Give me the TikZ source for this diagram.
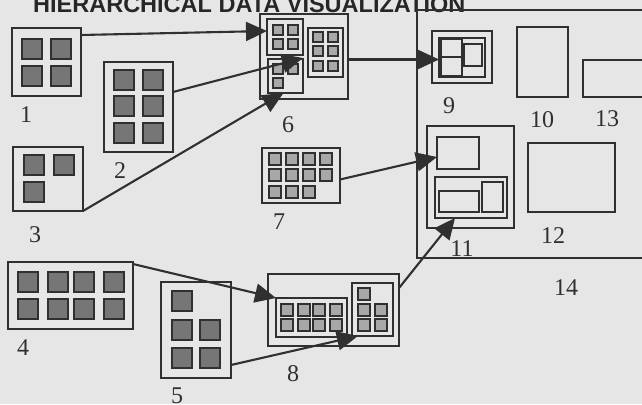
\documentclass[tikz,border=0pt]{standalone}
\usepackage{fontspec}
\setmainfont{Liberation Serif}
\newfontfamily\titlesans{Liberation Sans}
\usetikzlibrary{arrows.meta,fit,calc}
\definecolor{bg}{RGB}{230,230,230}
\definecolor{ink}{RGB}{48,48,48}
\definecolor{bigfill}{RGB}{118,118,118}
\definecolor{smallfill}{RGB}{168,168,168}
\newcommand{\BSq}[2]{\draw[bigsq] (#1,#2) rectangle ++(20,20);}
\newcommand{\SSq}[2]{\draw[smallsq] (#1,#2) rectangle ++(10,10);}
\newcommand{\MSq}[2]{\draw[smallsq] (#1,#2) rectangle ++(12,12);}
\begin{document}
\begin{tikzpicture}[x=1pt,y=-1pt,
  box/.style={draw=ink, line width=2.1pt, inner sep=0pt, outer sep=0pt},
  bigsq/.style={draw=ink, fill=bigfill, line width=2.2pt},
  smallsq/.style={draw=ink, fill=smallfill, line width=2pt},
  arr/.style={draw=ink, line width=2.1pt, -{Triangle[length=21pt,width=19pt]}},
  lab/.style={anchor=base, inner sep=0pt, text=ink, font=\fontsize{24}{24}\selectfont}]
\useasboundingbox (0,0) rectangle (642,404);
\fill[bg] (0,0) rectangle (642,404);

% title
\node[anchor=base west, inner sep=0pt, text=black!85, font=\titlesans\bfseries\fontsize{23.5}{24}\selectfont] (title) at (33,13) {HIERARCHICAL DATA VISUALIZATION};

% box 1
\node[box, fit={(12,28) (81,96)}] (b1) {};
\BSq{22}{39}\BSq{51}{39}\BSq{22}{66}\BSq{51}{66}
% box 2
\node[box, fit={(104,62) (173,152)}] (b2) {};
\BSq{114}{70}\BSq{143}{70}\BSq{114}{96}\BSq{143}{96}\BSq{114}{123}\BSq{143}{123}
% box 3
\node[box, fit={(13,147) (83,211)}] (b3) {};
\BSq{24}{155}\BSq{54}{155}\BSq{24}{182}
% box 4
\node[box, fit={(8,262) (133,329)}] (b4) {};
\BSq{18}{272}\BSq{48}{272}\BSq{74}{272}\BSq{104}{272}
\BSq{18}{299}\BSq{48}{299}\BSq{74}{299}\BSq{104}{299}
% box 5
\node[box, fit={(161,282) (231,378)}] (b5) {};
\BSq{172}{291}\BSq{172}{320}\BSq{200}{320}\BSq{172}{348}\BSq{200}{348}

% box 6
\node[box, fit={(260,14) (348,99)}] (b6) {};
\node[box, fit={(267,19) (303,55)}] (s6a) {};
\SSq{273}{25}\SSq{288}{25}\SSq{273}{39}\SSq{288}{39}
\node[box, fit={(268,59) (303,93)}] (s6b) {};
\SSq{273}{64}\SSq{288}{64}\SSq{273}{78}
\node[box, fit={(308,28) (343,77)}] (s6c) {};
\SSq{313}{32}\SSq{328}{32}\SSq{313}{46}\SSq{328}{46}\SSq{313}{61}\SSq{328}{61}

% box 7
\node[box, fit={(262,148) (340,203)}] (b7) {};
\MSq{269}{153}\MSq{286}{153}\MSq{303}{153}\MSq{320}{153}
\MSq{269}{169}\MSq{286}{169}\MSq{303}{169}\MSq{320}{169}
\MSq{269}{186}\MSq{286}{186}\MSq{303}{186}

% box 8
\node[box, fit={(268,274) (399,346)}] (b8) {};
\node[box, fit={(276,298) (347,337)}] (s8a) {};
\MSq{281}{304}\MSq{298}{304}\MSq{313}{304}\MSq{330}{304}
\MSq{281}{319}\MSq{298}{319}\MSq{313}{319}\MSq{330}{319}
\node[box, fit={(352,283) (393,336)}] (s8b) {};
\MSq{358}{288}\MSq{358}{304}\MSq{375}{304}\MSq{358}{319}\MSq{375}{319}

% box 14 (large)
\node[box, fit={(417,10) (660,258)}] (b14) {};
% box 9
\node[box, fit={(432,31) (492,83)}] (b9) {};
\node[box, fit={(439,38) (485,77)}] (s9) {};
\node[box, fit={(441,39) (462,76)}] (s9a) {};
\draw[ink, line width=2pt] (s9a.west) -- (s9a.east);
\node[box, line width=2.4pt, fit={(464,44) (482,66)}] (s9b) {};
% box 10
\node[box, fit={(517,27) (568,97)}] (b10) {};
% box 13
\node[box, fit={(583,60) (660,97)}] (b13) {};
% box 11
\node[box, fit={(427,126) (514,228)}] (b11) {};
\node[box, fit={(437,137) (479,169)}] (s11a) {};
\node[box, fit={(435,177) (507,218)}] (s11b) {};
\node[box, fit={(439,191) (479,212)}] (s11c) {};
\node[box, fit={(482,182) (503,212)}] (s11d) {};
% box 12
\node[box, fit={(528,143) (615,212)}] (b12) {};

% labels
\node[lab] (l1) at (26,122) {1};
\node[lab] (l2) at (120,178) {2};
\node[lab] (l3) at (35,242) {3};
\node[lab] (l4) at (23,355) {4};
\node[lab] (l5) at (177,403) {5};
\node[lab] (l6) at (288,132) {6};
\node[lab] (l7) at (279,229) {7};
\node[lab] (l8) at (293,381) {8};
\node[lab] (l9) at (449,113) {9};
\node[lab] (l10) at (542,127) {10};
\node[lab] (l13) at (607,126) {13};
\node[lab] (l11) at (462,256) {11};
\node[lab] (l12) at (553,243) {12};
\node[lab] (l14) at (566,295) {14};

% connectors
\draw[arr] ($(b1.north east)+(0,7)$) -- ($(s6a.north west)+(0,12)$);
\draw[arr] ($(b2.north east)+(0,30)$) -- ($(s6b.north east)+(0,-1)$);
\draw[arr] (b3.south east) -- ($(s6b.south)+(-2,0)$);
\draw[arr] ($(b6.east)+(0,3)$) coordinate (p4) -- (p4 -| s9.west);
\draw[arr] ($(b7.east)+(0,4)$) -- ($(s11a.west)+(0,4)$);
\draw[arr] ($(b8.north east)+(0,14)$) -- ($(s11b.south)+(-16,0)$);
\draw[arr] ($(b4.north east)+(0,2)$) -- (s8a.north west);
\draw[arr] ($(b5.south east)+(0,-13)$) -- ($(s8b.south west)+(6,0)$);
\end{tikzpicture}
\end{document}
